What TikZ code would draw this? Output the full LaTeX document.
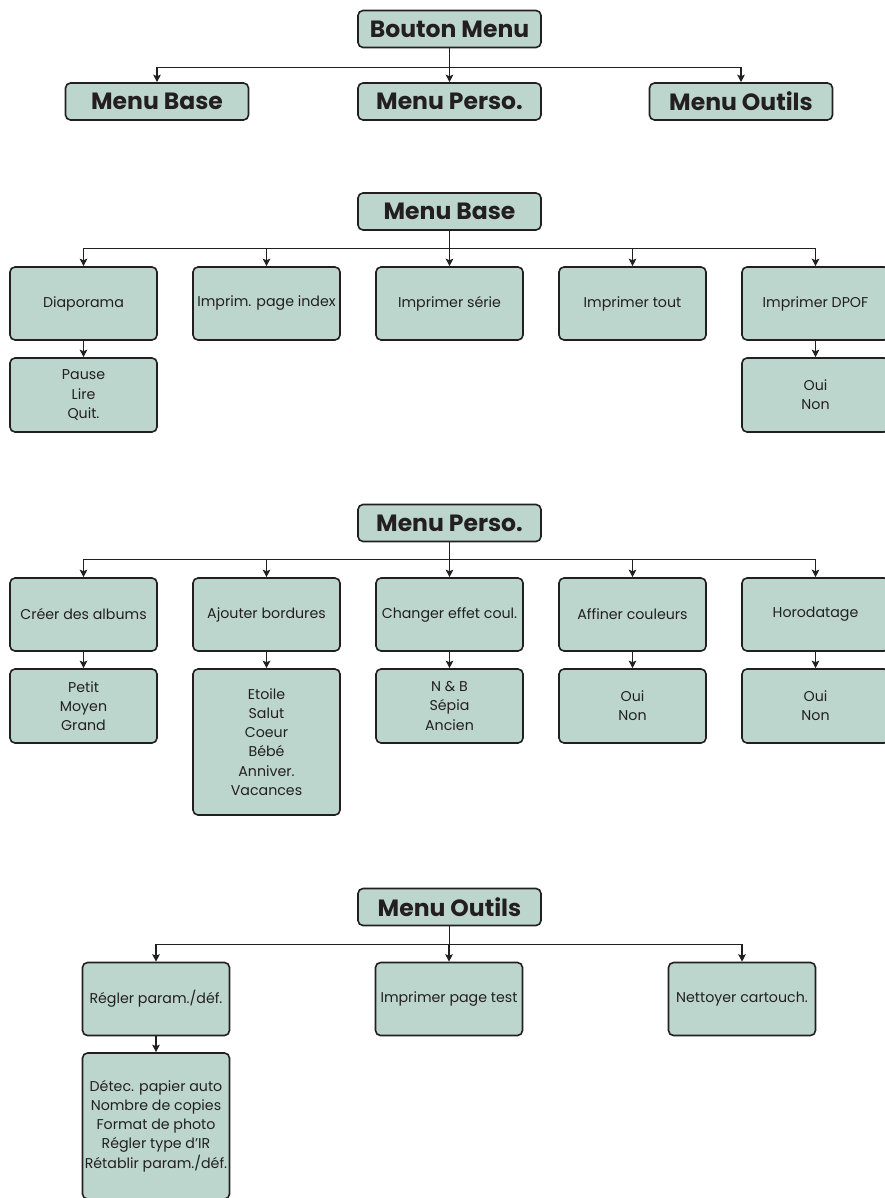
\documentclass[tikz,border=0pt]{standalone}
\usepackage{fontspec}
\setmainfont{Poppins}
\usetikzlibrary{arrows.meta}
\definecolor{boxfill}{RGB}{188,214,206}
\definecolor{boxline}{RGB}{35,31,32}
\begin{document}
\begin{tikzpicture}[x=1pt,y=-1pt,
 titlebox/.style={draw=boxline,fill=boxfill,line width=1.6pt,rounded corners=5pt,minimum width=183pt,minimum height=37pt,inner sep=0pt,font=\fontsize{23.5}{27}\selectfont\bfseries,text=boxline},
 itembox/.style={draw=boxline,fill=boxfill,line width=1.6pt,rounded corners=5pt,minimum width=147pt,minimum height=73pt,inner sep=0pt,align=center,font=\fontsize{14.2}{19.2}\selectfont,text=boxline},
 arr/.style={draw=boxline,line width=1.1pt,-{Stealth[length=7.5pt,width=7.5pt,inset=1.5pt]}}
]
\useasboundingbox (0,0) rectangle (885,1198);

% Section 1
\node[titlebox] (top) at (449.5,29) {Bouton Menu};
\node[titlebox] (m1) at (157,101.5) {Menu Base};
\node[titlebox] (m2) at (449.5,101.5) {Menu Perso.};
\node[titlebox] (m3) at (741,101.5) {Menu Outils};
\foreach \c in {m1,m2,m3} \draw[arr] (top.south) -- ++(0,19) -| (\c.north);

% Section 2
\node[titlebox] (bt) at (449.5,211.5) {Menu Base};
\node[itembox] (b1) at (83.5,303.5) {Diaporama};
\node[itembox] (b2) at (266.5,303.5) {Imprim. page index};
\node[itembox] (b3) at (449.5,303.5) {Imprimer série};
\node[itembox] (b4) at (632.5,303.5) {Imprimer tout};
\node[itembox] (b5) at (815.5,303.5) {Imprimer DPOF};
\node[itembox,minimum height=74pt] (b1s) at (83.5,395) {Pause\\Lire\\Quit.};
\node[itembox,minimum height=74pt] (b5s) at (815.5,395) {Oui\\Non};
\foreach \c in {b1,b2,b3,b4,b5} \draw[arr] (bt.south) -- ++(0,18) -| (\c.north);
\draw[arr] (b1.south) -- (b1s.north);
\draw[arr] (b5.south) -- (b5s.north);

% Section 3
\node[titlebox] (pt) at (449.5,523) {Menu Perso.};
\node[itembox] (p1) at (83.5,614.5) {Créer des albums};
\node[itembox] (p2) at (266.5,614.5) {Ajouter bordures};
\node[itembox] (p3) at (449.5,614.5) {Changer effet coul.};
\node[itembox] (p4) at (632.5,614.5) {Affiner couleurs};
\node[itembox] (p5) at (815.5,614.5) {Horodatage};
\node[itembox,minimum height=74pt] (p1s) at (83.5,706) {Petit\\Moyen\\Grand};
\node[itembox,minimum height=146pt] (p2s) at (266.5,742) {Etoile\\Salut\\Coeur\\Bébé\\Anniver.\\Vacances};
\node[itembox,minimum height=74pt] (p3s) at (449.5,706) {N \& B\\Sépia\\Ancien};
\node[itembox,minimum height=74pt] (p4s) at (632.5,706) {Oui\\Non};
\node[itembox,minimum height=74pt] (p5s) at (815.5,706) {Oui\\Non};
\foreach \c in {p1,p2,p3,p4,p5} \draw[arr] (pt.south) -- ++(0,17) -| (\c.north);
\foreach \c in {p1,p2,p3,p4,p5} \draw[arr] (\c.south) -- (\c s.north);

% Section 4
\node[titlebox] (ot) at (449.5,907) {Menu Outils};
\node[itembox] (o1) at (156,999) {Régler param./déf.};
\node[itembox] (o2) at (449,999) {Imprimer page test};
\node[itembox] (o3) at (742,999) {Nettoyer cartouch.};
\node[itembox,minimum height=146pt] (o1s) at (156,1126) {Détec. papier auto\\Nombre de copies\\Format de photo\\Régler type d'IR\\Rétablir param./déf.};
\foreach \c in {o1,o2,o3} \draw[arr] (ot.south) -- ++(0,18) -| (\c.north);
\draw[arr] (o1.south) -- (o1s.north);
\end{tikzpicture}
\end{document}
